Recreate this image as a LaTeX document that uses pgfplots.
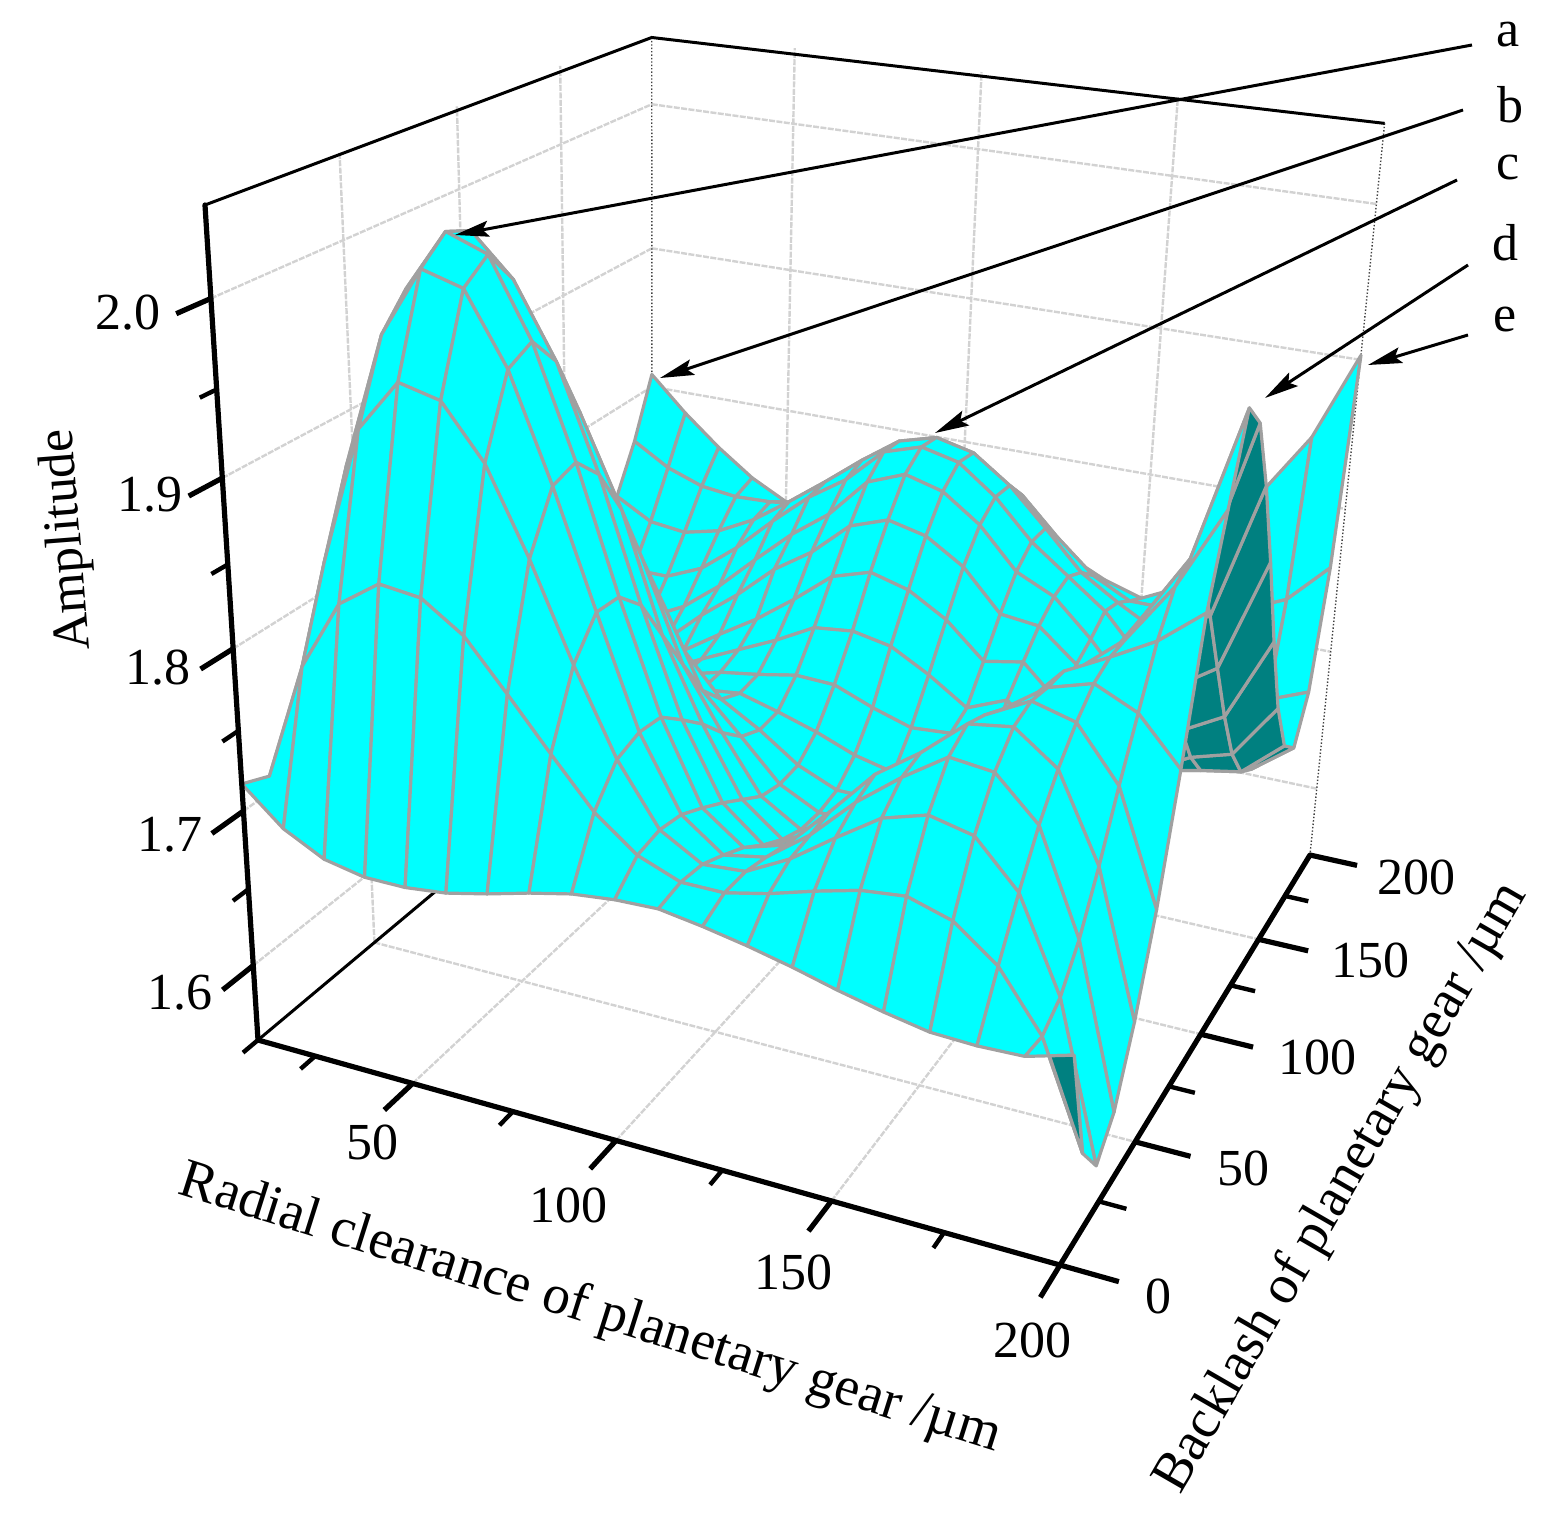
\documentclass[border=0pt]{standalone}
\usepackage{fontspec}
\setmainfont{Liberation Serif}
\usepackage{pgfplots}
\pgfplotsset{compat=1.18}
\usetikzlibrary{arrows.meta}
\definecolor{meshgray}{RGB}{160,160,160}
\definecolor{gridgray}{RGB}{210,210,210}
% perspective of the Origin box: u,v,w run 0..1 along x,y,z
\newcommand\PXe{PX((\thisrow{x}-10)/190,\thisrow{y}/200,(\thisrow{z}-1.55)/0.5)}
\newcommand\PYe{PY((\thisrow{x}-10)/190,\thisrow{y}/200,(\thisrow{z}-1.55)/0.5)}
% grid position of a surface row, from the row number in the table
\newcommand\Ugrid{((mod(\coordindex+0.5,20)-0.5)/19)}
\newcommand\Vgrid{((19-floor((\coordindex+0.5)/20))/19)}
\newcommand\lab[4][0]{\node[rotate=#1, font=\fontsize{26}{30}\selectfont] at (axis cs:#2,1525-#3,0) {#4};}
\newcommand\labt[4][0]{\node[rotate=#1, font=\fontsize{27.6}{30}\selectfont] at (axis cs:#2,1525-#3,0) {#4};}
\begin{document}
\begin{tikzpicture}
\begin{axis}[
    view={0}{90}, hide axis, scale only axis, clip=false,
    width=780pt, height=762.5pt,
    xmin=0, xmax=1560, ymin=0, ymax=1525, zmin=0, zmax=1,
    declare function={
      PX(\u,\v,\w)=(258+691.97*\u+562.4*\v-77.2*\w)/(1-0.1038*\u+0.2583*\v-0.118*\w);
      PY(\u,\v,\w)=1525-(1040+93.7*\u-146.6*\v-859.2*\w)/(1-0.1038*\u+0.2583*\v-0.118*\w);
    },
    colormap={cyanteal}{rgb255=(0,255,255) rgb255=(0,128,128)},
    point meta min=0, point meta max=1,
    unbounded coords=jump,
]
\path (axis cs:0,0,0) rectangle (axis cs:1560,1525,0);
% walls and floor grid
\addplot3[gridgray, line width=1.2pt, dash pattern=on 3pt off 0.7pt] table[x expr=\PXe, y expr=\PYe, z expr=0, row sep=\\] {
x y z\\
50 200 1.55\\ 50 200 2.05\\ nan nan nan\\ 100 200 1.55\\ 100 200 2.05\\ nan nan nan\\ 150 200 1.55\\ 150 200 2.05\\ nan nan nan\\
10 200 1.6\\ 200 200 1.6\\ nan nan nan\\ 10 200 1.7\\ 200 200 1.7\\ nan nan nan\\ 10 200 1.8\\ 200 200 1.8\\ nan nan nan\\ 10 200 1.9\\ 200 200 1.9\\ nan nan nan\\ 10 200 2.0\\ 200 200 2.0\\ nan nan nan\\
10 50 1.55\\ 10 50 2.05\\ nan nan nan\\ 10 100 1.55\\ 10 100 2.05\\ nan nan nan\\ 10 150 1.55\\ 10 150 2.05\\ nan nan nan\\
10 0 1.6\\ 10 200 1.6\\ nan nan nan\\ 10 0 1.7\\ 10 200 1.7\\ nan nan nan\\ 10 0 1.8\\ 10 200 1.8\\ nan nan nan\\ 10 0 1.9\\ 10 200 1.9\\ nan nan nan\\ 10 0 2.0\\ 10 200 2.0\\ nan nan nan\\
50 0 1.55\\ 50 200 1.55\\ nan nan nan\\ 100 0 1.55\\ 100 200 1.55\\ nan nan nan\\ 150 0 1.55\\ 150 200 1.55\\ nan nan nan\\
10 50 1.55\\ 200 50 1.55\\ nan nan nan\\ 10 100 1.55\\ 200 100 1.55\\ nan nan nan\\ 10 150 1.55\\ 200 150 1.55\\
};
% box edges behind the surface
\addplot3[black!75, line width=0.7pt, densely dotted] table[x expr=\PXe, y expr=\PYe, z expr=0, row sep=\\] {
x y z\\ 10 200 2.045\\ 10 200 1.55\\ nan nan nan\\ 200 200 2.05\\ 200 200 1.55\\
};
\addplot3[black, line width=1.5pt] table[x expr=\PXe, y expr=\PYe, z expr=0, row sep=\\] {
x y z\\ 10 0 2.05\\ 10 200 2.045\\ 200 200 2.05\\
};
% floor-level edge, the surface hides its far part
\addplot3[black, line width=1.5pt] table[x expr=\PXe, y expr=\PYe, z expr=0, row sep=\\] {
x y z\\ 10 0 1.55\\ 10 85 1.55\\
};
% surface, rows from y=200 to the front, x=10..200 in each row; c=1 underside
\addplot3[surf, shader=flat corner, draw=meshgray, line width=1.6pt, line join=round,
    mesh/ordering=x varies, mesh/cols=20, z buffer=none, point meta=\thisrow{c}]
  table[x expr={PX(\Ugrid,\Vgrid,(\thisrow{z}-1.55)/0.5)},
        y expr={PY(\Ugrid,\Vgrid,(\thisrow{z}-1.55)/0.5)},
        z expr=0, row sep=\\] {
z c\\
1.809 0\\ 1.785 0\\ 1.764 0\\ 1.746 0\\ 1.733 0\\ 1.735 0\\ 1.745 0\\ 1.755 0\\ 1.770 0\\ 1.775 0\\ 1.760 0\\ 1.750 0\\ 1.732 0\\ 1.720 0\\ 1.712 0\\ 1.725 0\\ 1.766 0\\ 1.806 0\\ 1.844 0\\ 1.903 0\\
1.768 0\\ 1.753 0\\ 1.744 0\\ 1.741 0\\ 1.742 0\\ 1.745 0\\ 1.765 0\\ 1.780 0\\ 1.795 0\\ 1.805 0\\ 1.795 0\\ 1.780 0\\ 1.755 0\\ 1.733 0\\ 1.720 0\\ 1.720 0\\ 1.710 0\\ 1.730 0\\ 1.742 0\\ 1.769 0\\
1.736 0\\ 1.722 0\\ 1.719 0\\ 1.725 0\\ 1.738 0\\ 1.756 0\\ 1.775 0\\ 1.795 0\\ 1.813 0\\ 1.820 0\\ 1.814 0\\ 1.796 0\\ 1.771 0\\ 1.745 0\\ 1.729 0\\ 1.715 0\\ 1.660 0\\ 1.675 0\\ 1.682 0\\ 1.693 0\\
1.705 0\\ 1.696 0\\ 1.696 0\\ 1.707 0\\ 1.727 0\\ 1.751 0\\ 1.773 0\\ 1.790 0\\ 1.814 0\\ 1.822 0\\ 1.816 0\\ 1.797 0\\ 1.771 0\\ 1.752 0\\ 1.733 0\\ 1.705 0\\ 1.640 1\\ 1.640 1\\ 1.644 1\\ 1.665 0\\
1.685 0\\ 1.678 0\\ 1.676 0\\ 1.689 0\\ 1.709 0\\ 1.733 0\\ 1.756 0\\ 1.775 0\\ 1.802 0\\ 1.812 0\\ 1.805 0\\ 1.787 0\\ 1.760 0\\ 1.748 0\\ 1.724 0\\ 1.695 0\\ 1.643 1\\ 1.649 1\\ 1.654 1\\ 1.678 0\\
1.670 0\\ 1.668 0\\ 1.665 0\\ 1.675 0\\ 1.698 0\\ 1.718 0\\ 1.741 0\\ 1.758 0\\ 1.781 0\\ 1.790 0\\ 1.784 0\\ 1.768 0\\ 1.741 0\\ 1.738 0\\ 1.717 0\\ 1.685 0\\ 1.655 1\\ 1.670 1\\ 1.678 1\\ 1.715 0\\
1.665 0\\ 1.665 0\\ 1.670 0\\ 1.675 0\\ 1.683 0\\ 1.700 0\\ 1.716 0\\ 1.735 0\\ 1.756 0\\ 1.764 0\\ 1.757 0\\ 1.742 0\\ 1.719 0\\ 1.724 0\\ 1.700 0\\ 1.673 0\\ 1.675 0\\ 1.700 1\\ 1.715 1\\ 1.770 0\\
1.665 0\\ 1.670 0\\ 1.685 0\\ 1.695 0\\ 1.680 0\\ 1.693 0\\ 1.705 0\\ 1.717 0\\ 1.731 0\\ 1.734 0\\ 1.729 0\\ 1.715 0\\ 1.698 0\\ 1.709 0\\ 1.685 0\\ 1.680 0\\ 1.700 0\\ 1.740 1\\ 1.758 1\\ 1.831 0\\
1.675 0\\ 1.685 0\\ 1.715 0\\ 1.730 0\\ 1.695 0\\ 1.693 0\\ 1.700 0\\ 1.704 0\\ 1.709 0\\ 1.708 0\\ 1.698 0\\ 1.690 0\\ 1.692 0\\ 1.685 0\\ 1.675 0\\ 1.695 0\\ 1.730 0\\ 1.790 1\\ 1.802 1\\ 1.887 0\\
1.690 0\\ 1.710 0\\ 1.755 0\\ 1.775 0\\ 1.725 0\\ 1.715 0\\ 1.699 0\\ 1.702 0\\ 1.695 0\\ 1.687 0\\ 1.677 0\\ 1.671 0\\ 1.675 0\\ 1.675 0\\ 1.680 0\\ 1.715 0\\ 1.755 0\\ 1.815 1\\ 1.838 1\\ 1.933 0\\
1.715 0\\ 1.740 0\\ 1.800 0\\ 1.830 0\\ 1.770 0\\ 1.760 0\\ 1.737 0\\ 1.709 0\\ 1.694 0\\ 1.676 0\\ 1.665 0\\ 1.665 0\\ 1.670 0\\ 1.685 0\\ 1.695 0\\ 1.735 0\\ 1.775 0\\ 1.815 0\\ 1.857 0\\ 1.950 0\\
1.745 0\\ 1.775 0\\ 1.850 0\\ 1.885 0\\ 1.825 0\\ 1.810 0\\ 1.777 0\\ 1.726 0\\ 1.701 0\\ 1.675 0\\ 1.662 0\\ 1.663 0\\ 1.673 0\\ 1.700 0\\ 1.715 0\\ 1.755 0\\ 1.790 0\\ 1.813 0\\ 1.850 0\\ 1.900 0\\
1.775 0\\ 1.810 0\\ 1.905 0\\ 1.940 0\\ 1.880 0\\ 1.860 0\\ 1.815 0\\ 1.754 0\\ 1.715 0\\ 1.679 0\\ 1.663 0\\ 1.671 0\\ 1.680 0\\ 1.715 0\\ 1.735 0\\ 1.770 0\\ 1.799 0\\ 1.813 0\\ 1.828 0\\ 1.850 0\\
1.800 0\\ 1.850 0\\ 1.950 0\\ 1.985 0\\ 1.940 0\\ 1.910 0\\ 1.856 0\\ 1.783 0\\ 1.732 0\\ 1.689 0\\ 1.669 0\\ 1.680 0\\ 1.690 0\\ 1.730 0\\ 1.750 0\\ 1.781 0\\ 1.800 0\\ 1.808 0\\ 1.796 0\\ 1.768 0\\
1.825 0\\ 1.880 0\\ 1.980 0\\ 2.015 0\\ 1.991 0\\ 1.948 0\\ 1.886 0\\ 1.812 0\\ 1.746 0\\ 1.699 0\\ 1.678 0\\ 1.689 0\\ 1.705 0\\ 1.743 0\\ 1.765 0\\ 1.789 0\\ 1.803 0\\ 1.796 0\\ 1.764 0\\ 1.695 0\\
1.830 0\\ 1.900 0\\ 1.985 0\\ 2.021 0\\ 2.012 0\\ 1.967 0\\ 1.902 0\\ 1.827 0\\ 1.759 0\\ 1.708 0\\ 1.689 0\\ 1.697 0\\ 1.724 0\\ 1.753 0\\ 1.772 0\\ 1.795 0\\ 1.799 0\\ 1.780 0\\ 1.728 0\\ 1.639 0\\
1.790 0\\ 1.886 0\\ 1.966 0\\ 2.007 0\\ 2.000 0\\ 1.959 0\\ 1.897 0\\ 1.828 0\\ 1.761 0\\ 1.716 0\\ 1.697 0\\ 1.702 0\\ 1.722 0\\ 1.748 0\\ 1.769 0\\ 1.787 0\\ 1.784 0\\ 1.759 0\\ 1.697 0\\ 1.597 0\\
1.740 0\\ 1.837 0\\ 1.920 0\\ 1.951 0\\ 1.945 0\\ 1.914 0\\ 1.864 0\\ 1.807 0\\ 1.756 0\\ 1.719 0\\ 1.704 0\\ 1.706 0\\ 1.720 0\\ 1.739 0\\ 1.757 0\\ 1.765 0\\ 1.759 0\\ 1.732 0\\ 1.676 0\\ 1.579 0\\
1.710 0\\ 1.784 0\\ 1.827 0\\ 1.844 0\\ 1.841 0\\ 1.824 0\\ 1.795 0\\ 1.765 0\\ 1.736 0\\ 1.716 0\\ 1.706 0\\ 1.706 0\\ 1.712 0\\ 1.720 0\\ 1.727 0\\ 1.730 0\\ 1.722 0\\ 1.702 0\\ 1.667 0\\ 1.603 0\\
1.717 0\\ 1.695 0\\ 1.682 0\\ 1.677 0\\ 1.677 0\\ 1.680 0\\ 1.686 0\\ 1.693 0\\ 1.699 0\\ 1.702 0\\ 1.703 0\\ 1.699 0\\ 1.694 0\\ 1.688 0\\ 1.681 0\\ 1.675 0\\ 1.670 0\\ 1.669 0\\ 1.670 0\\ 1.678 0\\
};
% underside of the twisted front corner cell
\addplot3[fill={rgb,255:red,0;green,128;blue,128}, draw=meshgray, line width=1.6pt, line join=round] table[x expr=\PXe, y expr=\PYe, z expr=0, row sep=\\] {
x y z\\ 195 0 1.674\\ 200 0 1.678\\ 200 10.5 1.603\\ 195 0 1.674\\
};
% axis lines
\addplot3[black, line width=2.6pt, line cap=round] table[x expr=\PXe, y expr=\PYe, z expr=0, row sep=\\] {
x y z\\ 10 0 2.05\\ 10 0 1.55\\ 200 0 1.55\\ 200 200 1.55\\
};
% major ticks
\addplot3[black, line width=2.6pt] table[x expr=\PXe, y expr=\PYe, z expr=0, row sep=\\] {
x y z\\
50 0 1.55\\ 50 -12 1.55\\ nan nan nan\\ 100 0 1.55\\ 100 -12 1.55\\ nan nan nan\\ 150 0 1.55\\ 150 -12 1.55\\ nan nan nan\\ 200 0 1.55\\ 200 -12 1.55\\ nan nan nan\\
200 0 1.55\\ 212.4 0 1.55\\ nan nan nan\\ 200 50 1.55\\ 212.4 50 1.55\\ nan nan nan\\ 200 100 1.55\\ 212.4 100 1.55\\ nan nan nan\\ 200 150 1.55\\ 212.4 150 1.55\\ nan nan nan\\ 200 200 1.55\\ 212.4 200 1.55\\ nan nan nan\\
10 0 1.6\\ 10 -12 1.6\\ nan nan nan\\ 10 0 1.7\\ 10 -12 1.7\\ nan nan nan\\ 10 0 1.8\\ 10 -12 1.8\\ nan nan nan\\ 10 0 1.9\\ 10 -12 1.9\\ nan nan nan\\ 10 0 2.0\\ 10 -12 2.0\\
};
% minor ticks
\addplot3[black, line width=2.2pt] table[x expr=\PXe, y expr=\PYe, z expr=0, row sep=\\] {
x y z\\
10 0 1.55\\ 10 -6 1.55\\ nan nan nan\\ 25 0 1.55\\ 25 -6 1.55\\ nan nan nan\\ 75 0 1.55\\ 75 -6 1.55\\ nan nan nan\\ 125 0 1.55\\ 125 -6 1.55\\ nan nan nan\\ 175 0 1.55\\ 175 -6 1.55\\ nan nan nan\\
200 25 1.55\\ 206 25 1.55\\ nan nan nan\\ 200 75 1.55\\ 206 75 1.55\\ nan nan nan\\ 200 125 1.55\\ 206 125 1.55\\ nan nan nan\\ 200 175 1.55\\ 206 175 1.55\\ nan nan nan\\
10 0 1.65\\ 10 -6 1.65\\ nan nan nan\\ 10 0 1.75\\ 10 -6 1.75\\ nan nan nan\\ 10 0 1.85\\ 10 -6 1.85\\ nan nan nan\\ 10 0 1.95\\ 10 -6 1.95\\
};
% callouts
\tikzset{callout/.style={black, line width=1.5pt, -{Stealth[length=17pt,width=8pt,inset=3pt]}}}
\draw[callout] (axis cs:1472,1480,0) -- (axis cs:455,1290,0);
\draw[callout] (axis cs:1463,1415,0) -- (axis cs:660,1147,0);
\draw[callout] (axis cs:1457,1345,0) -- (axis cs:935,1092,0);
\draw[callout] (axis cs:1468,1260,0) -- (axis cs:1265,1127,0);
\draw[callout] (axis cs:1468,1190,0) -- (axis cs:1368,1160,0);
\lab{1508}{35}{a} \lab{1510}{105}{b} \lab{1508}{168}{c} \lab{1505}{243}{d} \lab{1505}{320}{e}
% tick labels
\lab{128}{313}{2.0} \lab{150}{495}{1.9} \lab{158}{668}{1.8} \lab{170}{835}{1.7} \lab{180}{993}{1.6}
\lab{372}{1142}{50} \lab{568}{1205}{100} \lab{793}{1272}{150} \lab{1032}{1340}{200}
\lab{1158}{1296}{0} \lab{1243}{1168}{50} \lab{1317}{1057}{100} \lab{1370}{960}{150} \lab{1416}{877}{200}
% axis titles
\lab[94.5]{68}{540}{Amplitude}
\labt[-17.5]{590}{1310}{Radial clearance of planetary gear /µm}
\labt[60]{1342}{1188}{Backlash of planetary gear /µm}
\end{axis}
\end{tikzpicture}
\end{document}
